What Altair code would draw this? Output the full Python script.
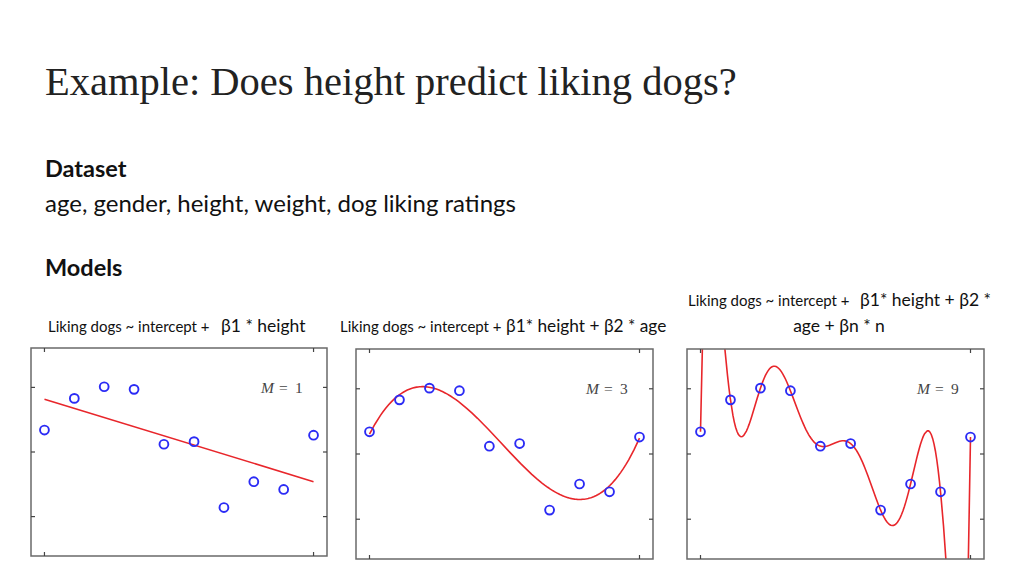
import altair as alt
import pandas as pd

# ---------------- data ----------------
X_VALUES = [0.0, 0.111, 0.222, 0.333, 0.444, 0.556, 0.667, 0.778, 0.889, 1.0]
Y_VALUES = [0.34, 0.83, 1.01, 0.97, 0.12, 0.16, -0.86, -0.46, -0.58, 0.26]
MODEL_ORDERS = [1, 3, 9]
X_TICKS = [0, 1]
Y_TICKS = [-1, 0, 1]
X_DOMAIN = [-0.05, 1.05]
Y_DOMAIN = [-1.61, 1.61]

TITLE = "Example: Does height predict liking dogs?"
H_DATASET = "Dataset"
DATASET_TEXT = "age, gender, height, weight, dog liking ratings"
H_MODELS = "Models"
LABEL_SMALL = "Liking dogs ~ intercept +"
LABEL_BIG = ["β1 * height", "β1* height + β2 * age", "β1* height + β2 *"]
LABEL_LINE2 = "age + βn * n"

# ---------------- style / layout ----------------
W, H = 1008, 560
RED = "#e8262b"
BLUE = "#2b2bf5"
FRAME = "#6a6a6a"
# panel boxes in plot coordinates: (left, right, top, bottom)
PANELS = [(23, 319, 340, 548), (348, 645, 341, 551), (679, 976, 341, 551)]
SANS = "Lato"

pts = pd.DataFrame({"x": X_VALUES, "y": Y_VALUES})
dummy = pd.DataFrame({"a": [0]})


def scales(box):
    l, r, t, b = box
    xs = alt.Scale(domain=X_DOMAIN, range=[l, r], nice=False, zero=False)
    ys = alt.Scale(domain=Y_DOMAIN, range=[b, t], nice=False, zero=False)
    return xs, ys


def curve_layer(order, box):
    xs, ys = scales(box)
    base = alt.Chart(pts)
    if order == 1:
        fit = base.transform_regression("x", "y", method="linear", extent=[0, 1])
    else:
        fit = base.transform_regression("x", "y", method="poly", order=order, extent=[0, 1])
    return fit.mark_line(color=RED, strokeWidth=1.6).encode(
        x=alt.X("x:Q", scale=xs, axis=None),
        y=alt.Y("y:Q", scale=ys, axis=None),
    )


def text(s, x, y, size, font=SANS, weight="normal", align="left", color="#111", style="normal"):
    return alt.Chart(dummy).mark_text(text=s, font=font, fontSize=size, fontWeight=weight,
                                      fontStyle=style, align=align, baseline="alphabetic",
                                      color=color).encode(x=alt.value(x), y=alt.value(y))


def deco_layer(order, box):
    xs, ys = scales(box)
    l, r, t, b = box
    tlx = 4.0 * (X_DOMAIN[1] - X_DOMAIN[0]) / (r - l)
    tly = 4.0 * (Y_DOMAIN[1] - Y_DOMAIN[0]) / (b - t)
    rows = []
    for xv in X_TICKS:
        rows.append({"x": xv, "x2": xv, "y": Y_DOMAIN[0], "y2": Y_DOMAIN[0] + tly})
        rows.append({"x": xv, "x2": xv, "y": Y_DOMAIN[1], "y2": Y_DOMAIN[1] - tly})
    for yv in Y_TICKS:
        rows.append({"x": X_DOMAIN[0], "x2": X_DOMAIN[0] + tlx, "y": yv, "y2": yv})
        rows.append({"x": X_DOMAIN[1], "x2": X_DOMAIN[1] - tlx, "y": yv, "y2": yv})
    ticks = alt.Chart(pd.DataFrame(rows)).mark_rule(color="#444", strokeWidth=1.2).encode(
        x=alt.X("x:Q", scale=xs, axis=None), x2="x2",
        y=alt.Y("y:Q", scale=ys, axis=None), y2="y2",
    )
    frame_df = pd.DataFrame({"x": [X_DOMAIN[0]], "x2": [X_DOMAIN[1]],
                             "y": [Y_DOMAIN[0]], "y2": [Y_DOMAIN[1]]})
    frame = alt.Chart(frame_df).mark_rect(fillOpacity=0, stroke=FRAME, strokeWidth=1.5).encode(
        x=alt.X("x:Q", scale=xs, axis=None), x2="x2",
        y=alt.Y("y:Q", scale=ys, axis=None), y2="y2",
    )
    points = alt.Chart(pts).mark_point(shape="circle", filled=False, size=78,
                                       strokeWidth=1.9, color=BLUE, opacity=1).encode(
        x=alt.X("x:Q", scale=xs, axis=None),
        y=alt.Y("y:Q", scale=ys, axis=None),
    )
    m_txt = text("M", l + 230, t + 45, 15.5, font="Liberation Serif", style="italic", color="#444")
    eq_txt = text("=", l + 248, t + 45, 15.5, font="Liberation Serif", color="#444")
    n_txt = text(str(order), l + 264, t + 45, 15.5, font="Liberation Serif", color="#444")
    return alt.layer(frame, ticks, points, m_txt, eq_txt, n_txt)


layers = []
for order, box in zip(MODEL_ORDERS, PANELS):
    layers.append(curve_layer(order, box))

# white masks so the M=9 curve looks clipped to its box
l3, r3, t3, b3 = PANELS[2]
layers.append(alt.Chart(dummy).mark_rect(color="white").encode(
    x=alt.value(l3 - 2), x2=alt.value(r3 + 2), y=alt.value(0), y2=alt.value(t3)))
layers.append(alt.Chart(dummy).mark_rect(color="white").encode(
    x=alt.value(l3 - 2), x2=alt.value(r3 + 2), y=alt.value(b3), y2=alt.value(H)))

for order, box in zip(MODEL_ORDERS, PANELS):
    layers.append(deco_layer(order, box))

# slide text
layers.append(text(TITLE, 37, 87, 40.5, font="Liberation Serif", color="#222"))
layers.append(text(H_DATASET, 37, 169, 23.5, weight="bold"))
layers.append(text(DATASET_TEXT, 37, 204, 24))
layers.append(text(H_MODELS, 37, 268, 23.5, weight="bold"))

layers.append(text(LABEL_SMALL, 40, 324, 15.0))
layers.append(text(LABEL_BIG[0], 213, 324, 17.5))
layers.append(text(LABEL_SMALL, 332, 324, 15.0))
layers.append(text(LABEL_BIG[1], 498, 324, 17.3))
layers.append(text(LABEL_SMALL, 680, 298, 15.0))
layers.append(text(LABEL_BIG[2], 852, 298, 17.5))
layers.append(text(LABEL_LINE2, 831, 324, 17.5, align="center"))

chart = alt.layer(*layers).resolve_scale(x="independent", y="independent").properties(
    width=W, height=H, padding=0, autosize=alt.AutoSizeParams(type="none")
).configure_view(strokeWidth=0)

chart.save("out.html", embed_options={"renderer": "svg", "actions": False})
